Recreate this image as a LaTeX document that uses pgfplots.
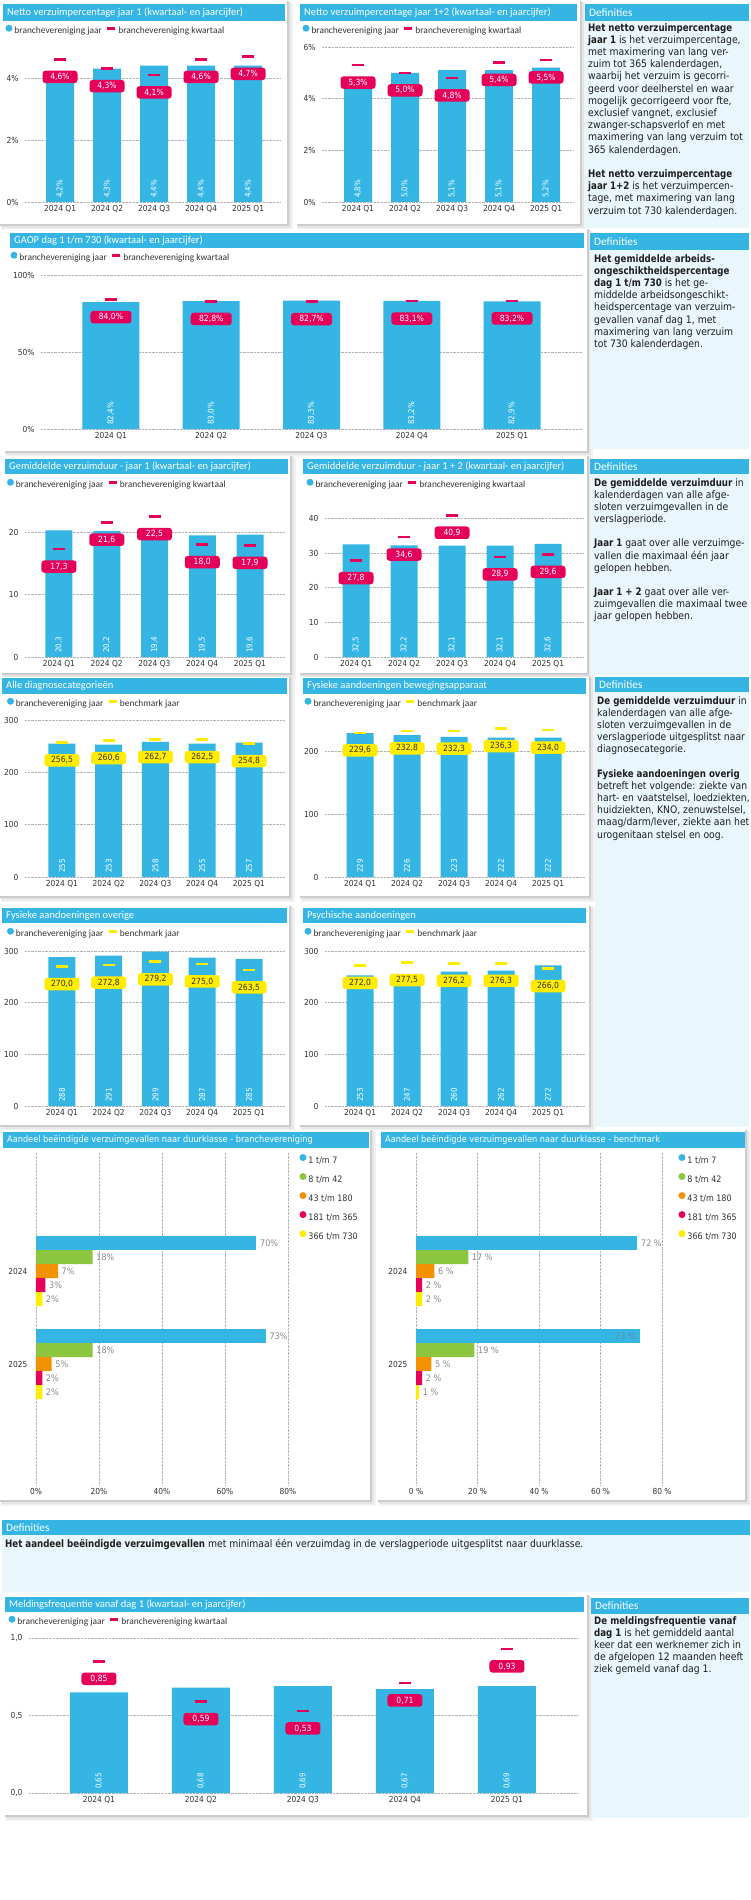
\documentclass[border=0pt]{standalone}
\usepackage{fontspec}
\setmainfont{DejaVu Sans}[FakeStretch=0.9, BoldFeatures={FakeStretch=0.84}]
\newfontfamily\carl{Carlito}
\usepackage{pgfplots}
\pgfplotsset{compat=1.18}
\usepackage{pgfplotstable}

\definecolor{blueT}{HTML}{34B5E4}
\definecolor{defbg}{HTML}{E9F6FC}
\definecolor{pinkc}{HTML}{E5005A}
\definecolor{yelc}{HTML}{FFEC00}
\definecolor{greenc}{HTML}{8CC63E}
\definecolor{orangec}{HTML}{F39200}
\definecolor{txt}{HTML}{333333}
\definecolor{deftxt}{HTML}{1E1E1E}
\definecolor{lblgray}{HTML}{8A8A8A}
\definecolor{inblue}{HTML}{5F8FA8}

\newcommand\titf{\carl\fontsize{10.5}{12}\selectfont}
\newcommand\deftitf{\carl\fontsize{11.3}{13}\selectfont}
\newcommand\legf{\carl\fontsize{9.4}{11}\selectfont}
\newcommand\tickf{\fontsize{8.3}{10}\selectfont}
\newcommand\boxf{\fontsize{8.5}{10}\selectfont}
\newcommand\rotf{\fontsize{7.9}{9}\selectfont}
\newcommand\deff{\fontsize{10.3}{12.2}\selectfont}
\newcommand\htitf{\fontsize{9.1}{11}\selectfont}
\newcommand\hlegf{\fontsize{8.9}{10}\selectfont}
\newcommand\hlblf{\fontsize{9}{10}\selectfont}

\newcommand\pc[1]{\pgfmathprintnumber[use comma,fixed,fixed zerofill,precision=#1,assume math mode=true]{\pgfplotspointmeta}}
\newcommand\tk{\pgfmathprintnumber[fixed,precision=0,assume math mode=true]{\tick}}

% data: x position, year figure (bar), quarter / benchmark figure (dash)
\pgfplotstableread{
x bar q
0 4.2 4.6
1 4.3 4.3
2 4.4 4.1
3 4.4 4.6
4 4.4 4.7
}\tA
\pgfplotstableread{
x bar q
0 4.8 5.3
1 5.0 5.0
2 5.1 4.8
3 5.1 5.4
4 5.2 5.5
}\tB
\pgfplotstableread{
x bar q
0 82.4 84.0
1 83.0 82.8
2 83.3 82.7
3 83.2 83.1
4 82.9 83.2
}\tGaop
\pgfplotstableread{
x bar q
0 20.3 17.3
1 20.2 21.6
2 19.4 22.5
3 19.5 18.0
4 19.6 17.9
}\tC
\pgfplotstableread{
x bar q
0 32.5 27.8
1 32.2 34.6
2 32.1 40.9
3 32.1 28.9
4 32.6 29.6
}\tD
\pgfplotstableread{
x bar q
0 255 256.5
1 253 260.6
2 258 262.7
3 255 262.5
4 257 254.8
}\tE
\pgfplotstableread{
x bar q
0 229 229.6
1 226 232.8
2 223 232.3
3 222 236.3
4 222 234.0
}\tF
\pgfplotstableread{
x bar q
0 288 270.0
1 291 272.8
2 299 279.2
3 287 275.0
4 285 263.5
}\tG
\pgfplotstableread{
x bar q
0 253 272.0
1 247 277.5
2 260 276.2
3 262 276.3
4 272 266.0
}\tH
\pgfplotstableread{
x bar q
0 0.65 0.85
1 0.68 0.59
2 0.69 0.53
3 0.67 0.71
4 0.69 0.93
}\tK

\pgfplotsset{
  vchart/.style={
    scale only axis, anchor=north west, clip=false, ymin=0,
    axis line style={draw=none}, major tick length=0pt,
    ymajorgrids, grid style={densely dotted, gray!60, line width=0.8pt},
    xtick={0,1,2,3,4},
    xticklabels={2024 Q1,2024 Q2,2024 Q3,2024 Q4,2025 Q1},
    tick label style={font=\tickf, text=txt},
    yticklabel style={xshift=-3pt},
    yticklabel={\tk},
    legend columns=2,
    legend style={draw=none, fill=none, font=\legf, text=txt, anchor=west,
      inner sep=0pt, outer sep=0pt, at={(0,1)},
      /tikz/every even column/.append style={column sep=2pt}},
  },
  jaar/.style={ybar, bar width=#1, fill=blueT, draw=none,
    legend image code/.code={\fill[blueT] (3.5pt,0.3em) circle (3.5pt);}},
  rotlbl/.style={draw=none, mark=none, forget plot, point meta=explicit,
    nodes near coords={#1},
    every node near coord/.style={rotate=90, anchor=west, inner sep=4pt, font=\rotf, text=white}},
  markbox/.style n args={3}{only marks, mark=-, mark size=6pt,
    mark options={line width=2.6pt, draw=#1},
    point meta=y, nodes near coords={#3},
    every node near coord/.style={anchor=center, fill=#1, text=#2, font=\boxf,
      rounded corners=3pt, minimum width=35pt, minimum height=12.5pt,
      inner sep=1pt, yshift=-17.5pt},
    legend image code/.code={\draw[#1, line width=2.6pt] (0pt,0.3em) -- (8pt,0.3em);}},
  kwart/.style={markbox={pinkc}{white}{#1}},
  bench/.style={markbox={yelc}{txt}{#1}},
  hchart/.style={scale only axis, anchor=north west, clip=false,
    axis line style={draw=none}, major tick length=0pt,
    xmin=0, xmax=80, xtick={0,20,40,60,80}, ytick={0,1}, yticklabels={2025,2024},
    ymin=-1.30, ymax=2.27,
    xmajorgrids, grid style={densely dotted, gray!60, line width=0.8pt},
    tick label style={font=\tickf, text=txt},
    yticklabel style={xshift=-5pt},
    legend cell align=left,
    legend style={draw=none, fill=none, font=\hlegf, text=txt, anchor=north west,
      inner sep=0pt, outer sep=0pt, row sep=6.5pt}},
  % colour, unit suffix, shift of the bar within its year group
  hb/.style n args={3}{xbar, bar width=14pt, bar shift=#3, fill=#1, draw=none, point meta=x,
    nodes near coords={\pc{0}#2},
    every node near coord/.append style={anchor=west, font=\hlblf, text=lblgray,
      inner sep=2pt, xshift=1.5pt, yshift=#3},
    legend image code/.code={\fill[#1] (3.5pt,0.3em) circle (3.5pt);}},
}

\newcommand\panel[4]{%
  \fill[black!5] (#1+1,#2+2) rectangle (#3+6,#4+6);
  \fill[black!10] (#1+1,#2+1) rectangle (#3+4,#4+4);
  \fill[black!20] (#1,#2) rectangle (#3+2,#4+2);
  \fill[white] (#1,#2) rectangle (#3,#4);}
\newcommand\tbar[6][\titf]{%
  \fill[blueT] (#2,#3) rectangle (#4,#5);
  \node[anchor=west, inner sep=0pt, text=white, font=#1] at (#2+4,{(#3+#5)/2}) {#6};}
\newcommand\defbox[5]{%
  \fill[defbg] (#1,#2) rectangle (#3,#5);
  \fill[blueT] (#1,#2) rectangle (#3,#4);
  \node[anchor=west, inner sep=0pt, text=white, font=\deftitf] at (#1+4,{(#2+#4)/2}) {Definities};}

\begin{document}
\begin{tikzpicture}
\begin{scope}[x=1pt,y=-1pt]
\path[use as bounding box] (0,0) rectangle (750,1900);
\fill[white] (0,0) rectangle (750,1900);

% row 1
\panel{0}{1}{287}{224}
\tbar{3}{4}{285}{21}{Netto verzuimpercentage jaar 1 (kwartaal- en jaarcijfer)}
\panel{297}{1}{580}{224}
\tbar{300}{4}{577}{21}{Netto verzuimpercentage jaar 1+2 (kwartaal- en jaarcijfer)}
\defbox{585}{4}{749}{21}{228}
\node[anchor=north west, inner sep=0pt, align=left, font=\deff, text=deftxt] at (588,23) {%
\textbf{Het netto verzuimpercentage}\\
\textbf{jaar 1} is het verzuimpercentage,\\
met maximering van lang ver-\\
zuim tot 365 kalenderdagen,\\
waarbij het verzuim is gecorri-\\
geerd voor deelherstel en waar\\
mogelijk gecorrigeerd voor fte,\\
exclusief vangnet, exclusief\\
zwanger-schapsverlof en met\\
maximering van lang verzuim tot\\
365 kalenderdagen.\\[12.2pt]
\textbf{Het netto verzuimpercentage}\\
\textbf{jaar 1+2} is het verzuimpercen-\\
tage, met maximering van lang\\
verzuim tot 730 kalenderdagen.};

% row 2
\panel{5}{229}{587}{451}
\tbar{10}{233}{584}{248}{GAOP dag 1 t/m 730 (kwartaal- en jaarcijfer)}
\defbox{590}{233}{749}{250}{449}
\node[anchor=north west, inner sep=0pt, align=left, font=\deff, text=deftxt] at (594,254) {%
\textbf{Het gemiddelde arbeids-}\\
\textbf{ongeschiktheidspercentage}\\
\textbf{dag 1 t/m 730} is het ge-\\
middelde arbeidsongeschikt-\\
heidspercentage van verzuim-\\
gevallen vanaf dag 1, met\\
maximering van lang verzuim\\
tot 730 kalenderdagen.};

% row 3
\panel{2}{456}{290}{673}
\tbar{5}{459}{288}{474}{Gemiddelde verzuimduur - jaar 1 (kwartaal- en jaarcijfer)}
\panel{300}{456}{587}{673}
\tbar{303}{459}{584}{474}{Gemiddelde verzuimduur - jaar 1 + 2 (kwartaal- en jaarcijfer)}
\defbox{590}{459}{749}{474}{675}
\node[anchor=north west, inner sep=0pt, align=left, font=\deff, text=deftxt] at (594,478) {%
\textbf{De gemiddelde verzuimduur} in\\
kalenderdagen van alle afge-\\
sloten verzuimgevallen in de\\
verslagperiode.\\[12pt]
\textbf{Jaar 1} gaat over alle verzuimge-\\
vallen die maximaal één jaar\\
gelopen hebben.\\[12pt]
\textbf{Jaar 1 + 2} gaat over alle ver-\\
zuimgevallen die maximaal twee\\
jaar gelopen hebben.};

% rows 4 and 5
\panel{0}{677}{289}{896}
\tbar{2}{678}{287}{694}{Alle diagnosecategorieën}
\panel{300}{677}{589}{896}
\tbar{303}{678}{586}{694}{Fysieke aandoeningen bewegingsapparaat}
\defbox{595}{677}{749}{692}{1127}
\node[anchor=north west, inner sep=0pt, align=left, font=\deff, text=deftxt] at (597,696) {%
\textbf{De gemiddelde verzuimduur} in\\
kalenderdagen van alle afge-\\
sloten verzuimgevallen in de\\
verslagperiode uitgesplitst naar\\
diagnosecategorie.\\[12pt]
\textbf{Fysieke aandoeningen overig}\\
betreft het volgende: ziekte van\\
hart- en vaatstelsel, loedziekten,\\
huidziekten, KNO, zenuwstelsel,\\
maag/darm/lever, ziekte aan het\\
urogenitaan stelsel en oog.};
\panel{0}{906}{289}{1125}
\tbar{2}{908}{287}{923}{Fysieke aandoeningen overige}
\panel{300}{906}{589}{1125}
\tbar{303}{908}{586}{923}{Psychische aandoeningen}

% row 6
\panel{0}{1130}{370}{1500}
\tbar[\htitf]{3}{1132}{369}{1148}{Aandeel beëindigde verzuimgevallen naar duurklasse - branchevereniging}
\panel{378}{1130}{745}{1500}
\tbar[\htitf]{381}{1132}{745}{1148}{Aandeel beëindigde verzuimgevallen naar duurklasse - benchmark}

\defbox{2}{1520}{750}{1535}{1592}
\node[anchor=north west, inner sep=0pt, align=left, font=\deff, text=deftxt] at (5,1539) {%
\textbf{Het aandeel beëindigde verzuimgevallen} met minimaal één verzuimdag in de verslagperiode uitgesplitst naar duurklasse.};

% row 7
\panel{5}{1595}{587}{1815}
\tbar{5}{1597}{584}{1612}{Meldingsfrequentie vanaf dag 1 (kwartaal- en jaarcijfer)}
\defbox{591}{1598}{749}{1614}{1818}
\node[anchor=north west, inner sep=0pt, align=left, font=\deff, text=deftxt] at (594,1616) {%
\textbf{De meldingsfrequentie vanaf}\\
\textbf{dag 1} is het gemiddeld aantal\\
keer dat een werknemer zich in\\
de afgelopen 12 maanden heeft\\
ziek gemeld vanaf dag 1.};
\end{scope}

% ---- charts ----
\begin{axis}[vchart, at={(25pt,-47pt)}, width=256pt, height=155pt,
  xmin=-0.745, xmax=4.70, ymax=5, ytick={0,2,4}, yticklabel={\tk\%},
  legend style={xshift=-19.5pt, yshift=16pt}]
\addplot[jaar=28pt] table[x=x,y=bar]{\tA};
\addplot[rotlbl={\pc{1}\%}] table[x=x,y expr=0,meta=bar]{\tA};
\addplot[kwart={\pc{1}\%}] table[x=x,y=q]{\tA};
\legend{branchevereniging jaar,branchevereniging kwartaal}
\end{axis}

\begin{axis}[vchart, at={(322pt,-47pt)}, width=251pt, height=155pt,
  xmin=-0.766, xmax=4.574, ymax=6, ytick={0,2,4,6}, yticklabel={\tk\%},
  legend style={xshift=-19.5pt, yshift=16pt}]
\addplot[jaar=28pt] table[x=x,y=bar]{\tB};
\addplot[rotlbl={\pc{1}\%}] table[x=x,y expr=0,meta=bar]{\tB};
\addplot[kwart={\pc{1}\%}] table[x=x,y=q]{\tB};
\legend{branchevereniging jaar,branchevereniging kwartaal}
\end{axis}

\begin{axis}[vchart, at={(41pt,-275pt)}, width=541pt, height=154pt,
  xmin=-0.698, xmax=4.698, ymax=100, ytick={0,50,100}, yticklabel={\tk\%},
  legend style={xshift=-30.5pt, yshift=17pt}]
\addplot[jaar=57pt] table[x=x,y=bar]{\tGaop};
\addplot[rotlbl={\pc{1}\%}] table[x=x,y expr=0,meta=bar]{\tGaop};
\addplot[kwart={\pc{1}\%}, every node near coord/.append style={minimum width=41pt}] table[x=x,y=q]{\tGaop};
\legend{branchevereniging jaar,branchevereniging kwartaal}
\end{axis}

\begin{axis}[vchart, at={(25pt,-501pt)}, width=260pt, height=156pt,
  xmin=-0.712, xmax=4.733, ymax=25, ytick={0,10,20},
  legend style={xshift=-18pt, yshift=16pt}]
\addplot[jaar=27pt] table[x=x,y=bar]{\tC};
\addplot[rotlbl={\pc{1}}] table[x=x,y expr=0,meta=bar]{\tC};
\addplot[kwart={\pc{1}}] table[x=x,y=q]{\tC};
\legend{branchevereniging jaar,branchevereniging kwartaal}
\end{axis}

\begin{axis}[vchart, at={(325pt,-501pt)}, width=258pt, height=156pt,
  xmin=-0.646, xmax=4.729, ymax=45, ytick={0,10,20,30,40},
  legend style={xshift=-18.5pt, yshift=16pt}]
\addplot[jaar=27pt] table[x=x,y=bar]{\tD};
\addplot[rotlbl={\pc{1}}] table[x=x,y expr=0,meta=bar]{\tD};
\addplot[kwart={\pc{1}}] table[x=x,y=q]{\tD};
\legend{branchevereniging jaar,branchevereniging kwartaal}
\end{axis}

\begin{axis}[vchart, at={(25pt,-720pt)}, width=260pt, height=157pt,
  xmin=-0.791, xmax=4.770, ymax=300, ytick={0,100,200,300},
  legend style={xshift=-18pt, yshift=16pt}]
\addplot[jaar=27pt] table[x=x,y=bar]{\tE};
\addplot[rotlbl={\pc{0}}] table[x=x,y expr=0,meta=bar]{\tE};
\addplot[bench={\pc{1}}] table[x=x,y=q]{\tE};
\legend{branchevereniging jaar,benchmark jaar}
\end{axis}

\begin{axis}[vchart, at={(325pt,-720pt)}, width=260pt, height=157pt,
  xmin=-0.745, xmax=4.787, ymax=250, ytick={0,100,200},
  legend style={xshift=-20.5pt, yshift=16pt}]
\addplot[jaar=27pt] table[x=x,y=bar]{\tF};
\addplot[rotlbl={\pc{0}}] table[x=x,y expr=0,meta=bar]{\tF};
\addplot[bench={\pc{1}}] table[x=x,y=q]{\tF};
\legend{branchevereniging jaar,benchmark jaar}
\end{axis}

\begin{axis}[vchart, at={(25pt,-951pt)}, width=260pt, height=155pt,
  xmin=-0.791, xmax=4.770, ymax=300, ytick={0,100,200,300},
  legend style={xshift=-18pt, yshift=17pt}]
\addplot[jaar=27pt] table[x=x,y=bar]{\tG};
\addplot[rotlbl={\pc{0}}] table[x=x,y expr=0,meta=bar]{\tG};
\addplot[bench={\pc{1}}] table[x=x,y=q]{\tG};
\legend{branchevereniging jaar,benchmark jaar}
\end{axis}

\begin{axis}[vchart, at={(325pt,-951pt)}, width=260pt, height=155pt,
  xmin=-0.745, xmax=4.787, ymax=300, ytick={0,100,200,300},
  legend style={xshift=-20.5pt, yshift=17pt}]
\addplot[jaar=27pt] table[x=x,y=bar]{\tH};
\addplot[rotlbl={\pc{0}}] table[x=x,y expr=0,meta=bar]{\tH};
\addplot[bench={\pc{1}}] table[x=x,y=q]{\tH};
\legend{branchevereniging jaar,benchmark jaar}
\end{axis}

% duration classes
\begin{axis}[hchart, at={(36pt,-1153pt)}, width=252pt, height=332pt,
  xticklabel={\tk\%}, legend style={at={(1.0456,0.997)}}]
\addplot[hb={blueT}{\%}{28pt}] coordinates {(70,1)};
\addlegendentry{1 t/m 7}
\addplot[hb={greenc}{\%}{14pt}] coordinates {(18,1) (18,0)};
\addlegendentry{8 t/m 42}
\addplot[hb={orangec}{\%}{0pt}] coordinates {(7,1) (5,0)};
\addlegendentry{43 t/m 180}
\addplot[hb={pinkc}{\%}{-14pt}] coordinates {(3,1) (2,0)};
\addlegendentry{181 t/m 365}
\addplot[hb={yelc}{\%}{-28pt}] coordinates {(2,1) (2,0)};
\addlegendentry{366 t/m 730}
\addplot[hb={blueT}{\%}{28pt}, forget plot] coordinates {(73,0)};
\end{axis}

\begin{axis}[hchart, at={(416pt,-1153pt)}, width=246pt, height=332pt,
  xticklabel={\tk~\%}, legend style={at={(1.067,0.997)}}]
\addplot[hb={blueT}{~\%}{28pt}] coordinates {(72,1)};
\addlegendentry{1 t/m 7}
\addplot[hb={greenc}{~\%}{14pt}] coordinates {(17,1) (19,0)};
\addlegendentry{8 t/m 42}
\addplot[hb={orangec}{~\%}{0pt}] coordinates {(6,1) (5,0)};
\addlegendentry{43 t/m 180}
\addplot[hb={pinkc}{~\%}{-14pt}] coordinates {(2,1) (2,0)};
\addlegendentry{181 t/m 365}
\addplot[hb={yelc}{~\%}{-28pt}] coordinates {(2,1) (1,0)};
\addlegendentry{366 t/m 730}
\addplot[hb={blueT}{~\%}{28pt}, forget plot,
  every node near coord/.append style={anchor=east, text=inblue, xshift=-4pt}] coordinates {(73,0)};
\end{axis}

% reporting frequency
\begin{axis}[vchart, at={(29pt,-1638pt)}, width=550pt, height=155pt,
  xmin=-0.686, xmax=4.706, ymax=1, ytick={0,0.5,1},
  yticklabel={\pgfmathprintnumber[use comma,fixed,fixed zerofill,precision=1,assume math mode=true]{\tick}},
  legend style={xshift=-20.5pt, yshift=16pt}]
\addplot[jaar=58pt] table[x=x,y=bar]{\tK};
\addplot[rotlbl={\pc{2}}] table[x=x,y expr=0,meta=bar]{\tK};
\addplot[kwart={\pc{2}}] table[x=x,y=q]{\tK};
\legend{branchevereniging jaar,branchevereniging kwartaal}
\end{axis}
\end{tikzpicture}
\end{document}
